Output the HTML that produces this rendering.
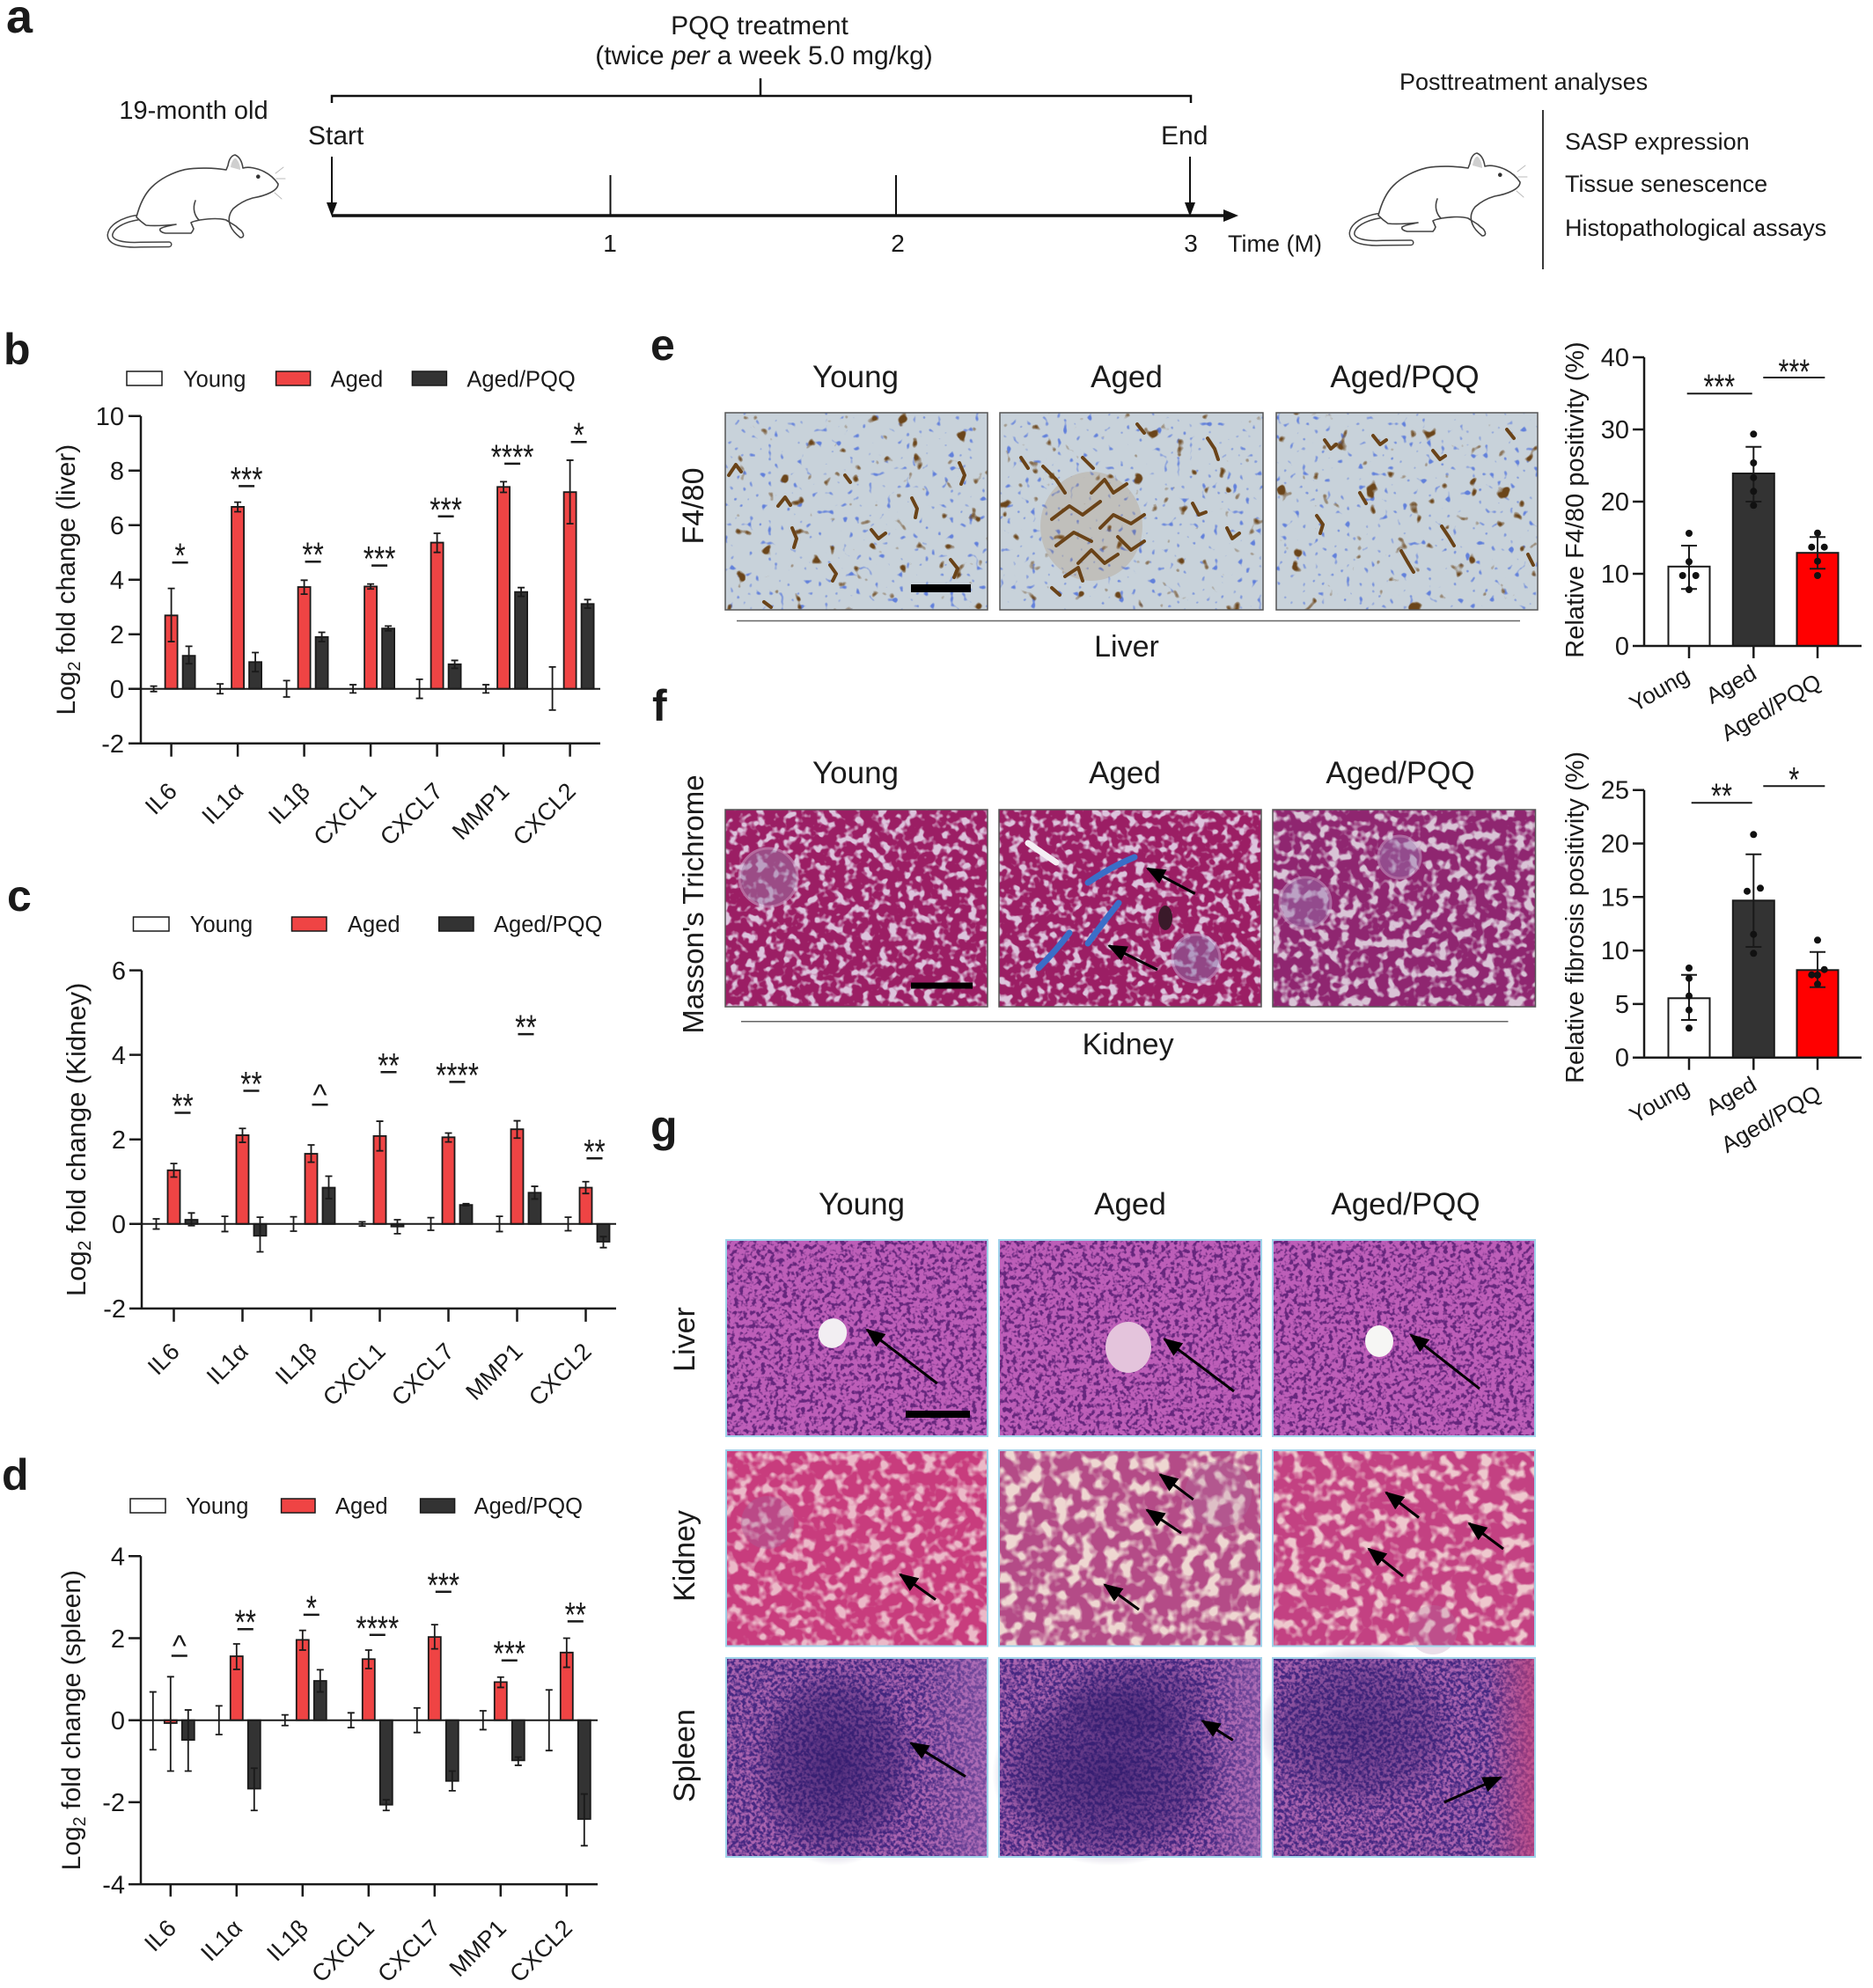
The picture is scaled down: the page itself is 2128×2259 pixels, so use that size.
<!DOCTYPE html>
<html><head><meta charset="utf-8">
<style>
html,body{margin:0;padding:0;background:#fff;width:2128px;height:2259px;overflow:hidden}
svg{display:block;font-family:"Liberation Sans",Arial,sans-serif;fill:#1a1a1a}
.rd{fill:#ef4444;stroke:#1a1a1a;stroke-width:1.8;vector-effect:non-scaling-stroke}
.dk{fill:#333;stroke:#1a1a1a;stroke-width:1.8;vector-effect:non-scaling-stroke}
.eb{fill:none;stroke:#1a1a1a;stroke-width:1.8;vector-effect:non-scaling-stroke}
.ax{fill:none;stroke:#1a1a1a;stroke-width:2.5}
.zl{fill:none;stroke:#1a1a1a;stroke-width:2}
.sg{fill:none;stroke:#1a1a1a;stroke-width:2.5}
.st{font-size:40px;text-anchor:middle}
.tk{font-size:29px;text-anchor:end}
.xl{font-size:27px;text-anchor:end}
.lg{font-size:25.5px}
.pl{font-size:50px;font-weight:bold}
.bc{fill:none;stroke:#6a4318;stroke-width:4;stroke-linecap:round;stroke-linejoin:round}
.ar{stroke:#000;stroke-width:3;marker-end:url(#ah)}
.ib{fill:none;stroke:#555;stroke-width:1.5}
.gb{fill:none;stroke:#9fd2ea;stroke-width:2}
</style></head><body>
<svg width="2128" height="2259" viewBox="0 0 2128 2259" xmlns="http://www.w3.org/2000/svg">
<defs>
<marker id="ah" markerUnits="userSpaceOnUse" markerWidth="22" markerHeight="18" viewBox="0 0 22 18" refX="20" refY="9" orient="auto"><path d="M0 0L22 9L0 18Z" fill="#000"/></marker>
<filter id="fF4" x="0" y="0" width="1" height="1" color-interpolation-filters="sRGB">
<feFlood flood-color="#c8d2da" result="bg"/>
<feTurbulence type="fractalNoise" baseFrequency="0.14" numOctaves="1" seed="4" result="n1"/>
<feColorMatrix in="n1" type="matrix" values="0 0 0 0 0.38  0 0 0 0 0.5  0 0 0 0 0.86  10 0 0 0 -6.5" result="blue"/>
<feTurbulence type="fractalNoise" baseFrequency="0.06" numOctaves="2" seed="11" result="n2"/>
<feColorMatrix in="n2" type="matrix" values="0 0 0 0 0.42  0 0 0 0 0.27  0 0 0 0 0.1  0 0 12 0 -8.3" result="brown"/>
<feMerge><feMergeNode in="bg"/><feMergeNode in="blue"/><feMergeNode in="brown"/></feMerge>
</filter>
<filter id="fMa" x="0" y="0" width="1" height="1" color-interpolation-filters="sRGB">
<feTurbulence type="fractalNoise" baseFrequency="0.1" numOctaves="2" seed="6"/>
<feColorMatrix type="matrix" values="6 0 0 0 -3.0  6 0 0 0 -3.0  6 0 0 0 -3.0  0 0 0 0 1"/>
<feColorMatrix type="matrix" values="0.255 0 0 0 0.608  0.647 0 0 0 0.118  0.47 0 0 0 0.392  0 0 0 0 1"/>
</filter>
<filter id="fMa2" x="0" y="0" width="1" height="1" color-interpolation-filters="sRGB">
<feTurbulence type="fractalNoise" baseFrequency="0.09" numOctaves="2" seed="13"/>
<feColorMatrix type="matrix" values="6 0 0 0 -2.9  6 0 0 0 -2.9  6 0 0 0 -2.9  0 0 0 0 1"/>
<feColorMatrix type="matrix" values="0.29 0 0 0 0.56  0.62 0 0 0 0.15  0.4 0 0 0 0.44  0 0 0 0 1"/>
</filter>
<filter id="fHE" x="0" y="0" width="1" height="1" color-interpolation-filters="sRGB">
<feTurbulence type="fractalNoise" baseFrequency="0.2" numOctaves="2" seed="2"/>
<feColorMatrix type="matrix" values="6 0 0 0 -2.1  6 0 0 0 -2.1  6 0 0 0 -2.1  0 0 0 0 1"/>
<feColorMatrix type="matrix" values="0.34 0 0 0 0.4  0.22 0 0 0 0.15  0.23 0 0 0 0.49  0 0 0 0 1"/>
</filter>
<filter id="fKy" x="0" y="0" width="1" height="1" color-interpolation-filters="sRGB">
<feTurbulence type="fractalNoise" baseFrequency="0.08" numOctaves="2" seed="7"/>
<feColorMatrix type="matrix" values="5 0 0 0 -2.4  5 0 0 0 -2.4  5 0 0 0 -2.4  0 0 0 0 1"/>
<feColorMatrix type="matrix" values="0.138 0 0 0 0.784  0.49 0 0 0 0.235  0.294 0 0 0 0.49  0 0 0 0 1"/>
</filter>
<filter id="fKa" x="0" y="0" width="1" height="1" color-interpolation-filters="sRGB">
<feTurbulence type="fractalNoise" baseFrequency="0.07" numOctaves="2" seed="9"/>
<feColorMatrix type="matrix" values="5 0 0 0 -2.3  5 0 0 0 -2.3  5 0 0 0 -2.3  0 0 0 0 1"/>
<feColorMatrix type="matrix" values="0.228 0 0 0 0.706  0.55 0 0 0 0.294  0.29 0 0 0 0.53  0 0 0 0 1"/>
</filter>
<filter id="fKp" x="0" y="0" width="1" height="1" color-interpolation-filters="sRGB">
<feTurbulence type="fractalNoise" baseFrequency="0.075" numOctaves="2" seed="15"/>
<feColorMatrix type="matrix" values="5 0 0 0 -2.4  5 0 0 0 -2.4  5 0 0 0 -2.4  0 0 0 0 1"/>
<feColorMatrix type="matrix" values="0.168 0 0 0 0.765  0.529 0 0 0 0.255  0.294 0 0 0 0.51  0 0 0 0 1"/>
</filter>
<filter id="fSp" x="0" y="0" width="1" height="1" color-interpolation-filters="sRGB">
<feTurbulence type="fractalNoise" baseFrequency="0.25" numOctaves="2" seed="21"/>
<feColorMatrix type="matrix" values="4 0 0 0 -1.5  4 0 0 0 -1.5  4 0 0 0 -1.5  0 0 0 0 1"/>
<feColorMatrix type="matrix" values="0.392 0 0 0 0.275  0.235 0 0 0 0.157  0.176 0 0 0 0.51  0 0 0 0 1"/>
</filter>
<radialGradient id="gd"><stop offset="0" stop-color="#2d1968" stop-opacity="0.7"/><stop offset="0.7" stop-color="#2d1968" stop-opacity="0.4"/><stop offset="1" stop-color="#2d1968" stop-opacity="0"/></radialGradient>
<linearGradient id="gp" x1="0" x2="1"><stop offset="0" stop-color="#c8467a" stop-opacity="0"/><stop offset="1" stop-color="#c8467a" stop-opacity="0.7"/></linearGradient>
<linearGradient id="gl" x1="0" x2="1"><stop offset="0" stop-color="#b27ac0" stop-opacity="0"/><stop offset="1" stop-color="#b27ac0" stop-opacity="0.45"/></linearGradient>
<g id="mouse" fill="#fff" stroke="#444" stroke-width="1.6" stroke-linejoin="round" stroke-linecap="round">
<path d="M157 247C138 250 126 258 125 267C125 276 140 279 160 278L192 277.7" fill="none" stroke="#444" stroke-width="7"/>
<path d="M157 247C138 250 126 258 125 267C125 276 140 279 160 278L192 277.7" fill="none" stroke="#fff" stroke-width="4"/>
<path d="M155 246.7C158 235 163 222 172 213C182 203 196 196 210 192.7C225 190 245 191 257 193L259 188C260 182 262 177 267 176C272 178 275 184 276 191C282 189 292 191 300 195C306 198 312 203 316 209C316 213 313 216 307 219C301 222 293 224 287 225C280 227 273 230 265 237C260 243 259 250 262 257C264 262 268 266 273 270C277 270 278 267 274 262C271 260 269 258 268 257C262 253 258 251 257 250C250 248 240 248 227 250C222 251 218 252 217 253L220 260C219 263 218 264 217 265L188 265C183 264 181 262 182 260C185 258 190 257 200 255C190 256 175 257 166 256C163 254 160 252 155 246.7Z"/>
<path d="M262 190C263 183 266 179 268 180C271 183 273 188 273 193Z" fill="#cfcfcf" stroke="none"/>
<circle cx="293.3" cy="200.7" r="2.3" fill="#333" stroke="none"/>
<path d="M222 228C218 238 222 246 226 250" fill="none"/>
<path d="M313 197L322 190M314 203L324 203M312 219L320 226" stroke="#bbb" stroke-width="1" fill="none"/>
</g>
</defs>
<rect width="2128" height="2259" fill="#fff"/>

<!-- ===== Panel a ===== -->
<text x="7" y="37" font-size="54" font-weight="bold">a</text>
<text x="863" y="39" text-anchor="middle" font-size="30">PQQ treatment</text>
<text x="868" y="73" text-anchor="middle" font-size="30">(twice <tspan font-style="italic">per</tspan> a week 5.0 mg/kg)</text>
<path d="M377 117V109H1353V117M864 109V89" stroke="#111" stroke-width="2.5" fill="none"/>
<text x="220" y="135" text-anchor="middle" font-size="29">19-month old</text>
<text x="350" y="164" font-size="30">Start</text>
<text x="1319" y="164" font-size="30">End</text>
<path d="M377 178V232M1352 178V232" stroke="#111" stroke-width="2"/>
<path d="M371 230L383 230L377 246ZM1346 230L1358 230L1352 246Z" fill="#111"/>
<path d="M377 245H1392" stroke="#111" stroke-width="3.5"/>
<path d="M1390 238L1407 245L1390 252Z" fill="#111"/>
<path d="M693.5 199V245M1018 199V245" stroke="#111" stroke-width="2"/>
<text x="693" y="286" text-anchor="middle" font-size="28">1</text>
<text x="1020" y="286" text-anchor="middle" font-size="28">2</text>
<text x="1353" y="286" text-anchor="middle" font-size="28">3</text>
<text x="1395" y="286" font-size="27">Time (M)</text>
<text x="1590" y="102" font-size="27">Posttreatment analyses</text>
<path d="M1753 125V306" stroke="#222" stroke-width="1.8"/>
<text x="1778" y="170" font-size="27">SASP expression</text>
<text x="1778" y="218" font-size="27">Tissue senescence</text>
<text x="1778" y="268" font-size="27">Histopathological assays</text>
<use href="#mouse"/>
<use href="#mouse" transform="translate(1411 -2)"/>

<!-- ===== Panel b ===== -->
<text class="pl" x="4" y="414">b</text>
<rect x="144" y="422" width="40" height="16" fill="#fff" stroke="#1a1a1a" stroke-width="1.5"/>
<text class="lg" x="208" y="439.5">Young</text>
<rect x="313.6" y="422" width="39" height="16" fill="#ef4444" stroke="#1a1a1a" stroke-width="1.5"/>
<text class="lg" x="375.6" y="439.5">Aged</text>
<rect x="468.4" y="422" width="39" height="16" fill="#333" stroke="#1a1a1a" stroke-width="1.5"/>
<text class="lg" x="530.4" y="439.5">Aged/PQQ</text>
<text transform="translate(85 658.7) rotate(-90)" text-anchor="middle" font-size="30">Log<tspan font-size="20" dy="6">2</tspan><tspan dy="-6"> fold change (liver)</tspan></text>
<g transform="translate(0 782.7) scale(1 -31)">
<rect class="rd" x="187.6" y="0" width="14" height="2.69"/><rect class="dk" x="207.6" y="0" width="14" height="1.21"/>
<rect class="rd" x="263.1" y="0" width="14" height="6.67"/><rect class="dk" x="283.1" y="0" width="14" height="0.98"/>
<rect class="rd" x="338.6" y="0" width="14" height="3.73"/><rect class="dk" x="358.6" y="0" width="14" height="1.9"/>
<rect class="rd" x="414.1" y="0" width="14" height="3.75"/><rect class="dk" x="434.1" y="0" width="14" height="2.21"/>
<rect class="rd" x="489.6" y="0" width="14" height="5.36"/><rect class="dk" x="509.6" y="0" width="14" height="0.9"/>
<rect class="rd" x="565.1" y="0" width="14" height="7.4"/><rect class="dk" x="585.1" y="0" width="14" height="3.55"/>
<rect class="rd" x="640.6" y="0" width="14" height="7.21"/><rect class="dk" x="660.6" y="0" width="14" height="3.11"/>
<path class="eb" d="M174.6 -0.1V0.1M170.6 -0.1h8M170.6 0.1h8M194.6 1.73V3.68M190.6 1.73h8M190.6 3.68h8M214.6 0.92V1.56M210.6 0.92h8M210.6 1.56h8
M250.1 -0.18V0.18M246.1 -0.18h8M246.1 0.18h8M270.1 6.49V6.84M266.1 6.49h8M266.1 6.84h8M290.1 0.63V1.33M286.1 0.63h8M286.1 1.33h8
M325.6 -0.3V0.3M321.6 -0.3h8M321.6 0.3h8M345.6 3.47V3.98M341.6 3.47h8M341.6 3.98h8M365.6 1.73V2.07M361.6 1.73h8M361.6 2.07h8
M401.1 -0.15V0.15M397.1 -0.15h8M397.1 0.15h8M421.1 3.66V3.84M417.1 3.66h8M417.1 3.84h8M441.1 2.13V2.3M437.1 2.13h8M437.1 2.3h8
M476.6 -0.35V0.35M472.6 -0.35h8M472.6 0.35h8M496.6 5V5.7M492.6 5h8M492.6 5.7h8M516.6 0.75V1.04M512.6 0.75h8M512.6 1.04h8
M552.1 -0.15V0.15M548.1 -0.15h8M548.1 0.15h8M572.1 7.2V7.59M568.1 7.2h8M568.1 7.59h8M592.1 3.39V3.71M588.1 3.39h8M588.1 3.71h8
M627.6 -0.78V0.8M623.6 -0.78h8M623.6 0.8h8M647.6 6.05V8.38M643.6 6.05h8M643.6 8.38h8M667.6 2.96V3.27M663.6 2.96h8M663.6 3.27h8"/>
</g>
<path class="zl" d="M160 782.7H682"/>
<path class="ax" d="M160 472.7V844.7H682M146 472.7H160M146 534.7H160M146 596.7H160M146 658.7H160M146 720.7H160M146 782.7H160M146 844.7H160M194.6 844.7v15M270.1 844.7v15M345.6 844.7v15M421.1 844.7v15M496.6 844.7v15M572.1 844.7v15M647.6 844.7v15"/>
<text class="tk" x="141" y="483">10</text><text class="tk" x="141" y="545">8</text><text class="tk" x="141" y="607">6</text><text class="tk" x="141" y="669">4</text><text class="tk" x="141" y="731">2</text><text class="tk" x="141" y="793">0</text><text class="tk" x="141" y="855">-2</text>
<path class="sg" d="M195.6 639.2h18M271.1 552.4h18M346.6 638.2h18M422.1 642.6h18M497.6 586.8h18M573.1 526.9h18M648.6 502.2h18"/>
<text class="st" x="204.6" y="645.2" textLength="12.2" lengthAdjust="spacingAndGlyphs">*</text>
<text class="st" x="280.1" y="558.4" textLength="36.6" lengthAdjust="spacingAndGlyphs">***</text>
<text class="st" x="355.6" y="644.2" textLength="24.4" lengthAdjust="spacingAndGlyphs">**</text>
<text class="st" x="431.1" y="648.6" textLength="36.6" lengthAdjust="spacingAndGlyphs">***</text>
<text class="st" x="506.6" y="592.8" textLength="36.6" lengthAdjust="spacingAndGlyphs">***</text>
<text class="st" x="582.1" y="532.9" textLength="48.8" lengthAdjust="spacingAndGlyphs">****</text>
<text class="st" x="657.6" y="508.2" textLength="12.2" lengthAdjust="spacingAndGlyphs">*</text>
<text class="xl" transform="translate(202.6 900.7) rotate(-45)">IL6</text>
<text class="xl" transform="translate(278.1 900.7) rotate(-45)">IL1α</text>
<text class="xl" transform="translate(353.6 900.7) rotate(-45)">IL1β</text>
<text class="xl" transform="translate(429.1 900.7) rotate(-45)">CXCL1</text>
<text class="xl" transform="translate(504.6 900.7) rotate(-45)">CXCL7</text>
<text class="xl" transform="translate(580.1 900.7) rotate(-45)">MMP1</text>
<text class="xl" transform="translate(655.6 900.7) rotate(-45)">CXCL2</text>

<!-- ===== Panel c ===== -->
<text class="pl" x="8" y="1035">c</text>
<rect x="151.5" y="1042" width="40.5" height="16" fill="#fff" stroke="#1a1a1a" stroke-width="1.5"/>
<text class="lg" x="215.8" y="1059">Young</text>
<rect x="331.5" y="1042" width="39.5" height="16" fill="#ef4444" stroke="#1a1a1a" stroke-width="1.5"/>
<text class="lg" x="395" y="1059">Aged</text>
<rect x="498.7" y="1042" width="39.3" height="16" fill="#333" stroke="#1a1a1a" stroke-width="1.5"/>
<text class="lg" x="561" y="1059">Aged/PQQ</text>
<text transform="translate(97 1294.8) rotate(-90)" text-anchor="middle" font-size="31">Log<tspan font-size="21" dy="6">2</tspan><tspan dy="-6"> fold change (Kidney)</tspan></text>
<g transform="translate(0 1390.8) scale(1 -48.04)">
<rect class="rd" x="190.5" y="0" width="14" height="1.27"/><rect class="dk" x="210.5" y="0" width="14" height="0.1"/>
<rect class="rd" x="268.5" y="0" width="14" height="2.1"/><rect class="dk" x="288.5" y="-0.28" width="14" height="0.28"/>
<rect class="rd" x="346.5" y="0" width="14" height="1.66"/><rect class="dk" x="366.5" y="0" width="14" height="0.86"/>
<rect class="rd" x="424.5" y="0" width="14" height="2.08"/><rect class="dk" x="444.5" y="-0.06" width="14" height="0.06"/>
<rect class="rd" x="502.5" y="0" width="14" height="2.05"/><rect class="dk" x="522.5" y="0" width="14" height="0.45"/>
<rect class="rd" x="580.5" y="0" width="14" height="2.24"/><rect class="dk" x="600.5" y="0" width="14" height="0.74"/>
<rect class="rd" x="658.5" y="0" width="14" height="0.86"/><rect class="dk" x="678.5" y="-0.42" width="14" height="0.42"/>
<path class="eb" d="M177.5 -0.12V0.12M173.5 -0.12h8M173.5 0.12h8M197.5 1.11V1.43M193.5 1.11h8M193.5 1.43h8M217.5 -0.04V0.26M213.5 -0.04h8M213.5 0.26h8
M255.5 -0.18V0.18M251.5 -0.18h8M251.5 0.18h8M275.5 1.93V2.26M271.5 1.93h8M271.5 2.26h8M295.5 -0.66V0.16M291.5 -0.66h8M291.5 0.16h8
M333.5 -0.17V0.17M329.5 -0.17h8M329.5 0.17h8M353.5 1.46V1.87M349.5 1.46h8M349.5 1.87h8M373.5 0.6V1.13M369.5 0.6h8M369.5 1.13h8
M411.5 -0.05V0.05M407.5 -0.05h8M407.5 0.05h8M431.5 1.73V2.43M427.5 1.73h8M427.5 2.43h8M451.5 -0.23V0.1M447.5 -0.23h8M447.5 0.1h8
M489.5 -0.15V0.15M485.5 -0.15h8M485.5 0.15h8M509.5 1.94V2.15M505.5 1.94h8M505.5 2.15h8M529.5 0.43V0.48M525.5 0.43h8M525.5 0.48h8
M567.5 -0.18V0.18M563.5 -0.18h8M563.5 0.18h8M587.5 2.03V2.44M583.5 2.03h8M583.5 2.44h8M607.5 0.59V0.89M603.5 0.59h8M603.5 0.89h8
M645.5 -0.16V0.16M641.5 -0.16h8M641.5 0.16h8M665.5 0.72V1M661.5 0.72h8M661.5 1h8M685.5 -0.56V-0.3M681.5 -0.56h8M681.5 -0.3h8"/>
</g>
<path class="zl" d="M161 1390.8H700"/>
<path class="ax" d="M161 1102.6V1486.9H700M147 1102.6H161M147 1198.6H161M147 1294.7H161M147 1390.8H161M147 1486.9H161M197.5 1486.9v15M275.5 1486.9v15M353.5 1486.9v15M431.5 1486.9v15M509.5 1486.9v15M587.5 1486.9v15M665.5 1486.9v15"/>
<text class="tk" x="143" y="1112.9">6</text><text class="tk" x="143" y="1208.9">4</text><text class="tk" x="143" y="1305">2</text><text class="tk" x="143" y="1401.1">0</text><text class="tk" x="143" y="1497.2">-2</text>
<path class="sg" d="M198.5 1264.5h18M276.5 1239.5h18M354.5 1255.3h18M432.5 1218.3h18M510.5 1229.4h18M588.5 1175.1h18M666.5 1316.3h18"/>
<text class="st" x="207.5" y="1270.5" textLength="24.4" lengthAdjust="spacingAndGlyphs">**</text>
<text class="st" x="285.5" y="1245.5" textLength="24.4" lengthAdjust="spacingAndGlyphs">**</text>
<text x="363.5" y="1256" font-size="34" text-anchor="middle">^</text>
<text class="st" x="441.5" y="1224.3" textLength="24.4" lengthAdjust="spacingAndGlyphs">**</text>
<text class="st" x="519.5" y="1235.4" textLength="48.8" lengthAdjust="spacingAndGlyphs">****</text>
<text class="st" x="597.5" y="1181.1" textLength="24.4" lengthAdjust="spacingAndGlyphs">**</text>
<text class="st" x="675.5" y="1322.3" textLength="24.4" lengthAdjust="spacingAndGlyphs">**</text>
<text class="xl" transform="translate(205.5 1537.4) rotate(-45)">IL6</text>
<text class="xl" transform="translate(283.5 1537.4) rotate(-45)">IL1α</text>
<text class="xl" transform="translate(361.5 1537.4) rotate(-45)">IL1β</text>
<text class="xl" transform="translate(439.5 1537.4) rotate(-45)">CXCL1</text>
<text class="xl" transform="translate(517.5 1537.4) rotate(-45)">CXCL7</text>
<text class="xl" transform="translate(595.5 1537.4) rotate(-45)">MMP1</text>
<text class="xl" transform="translate(673.5 1537.4) rotate(-45)">CXCL2</text>

<!-- ===== Panel d ===== -->
<text class="pl" x="2" y="1693">d</text>
<rect x="148" y="1703" width="40" height="16" fill="#fff" stroke="#1a1a1a" stroke-width="1.5"/>
<text class="lg" x="211" y="1720">Young</text>
<rect x="319.6" y="1703" width="38.4" height="16" fill="#ef4444" stroke="#1a1a1a" stroke-width="1.5"/>
<text class="lg" x="381" y="1720">Aged</text>
<rect x="477.6" y="1703" width="39" height="16" fill="#333" stroke="#1a1a1a" stroke-width="1.5"/>
<text class="lg" x="538.6" y="1720">Aged/PQQ</text>
<text transform="translate(91 1954.7) rotate(-90)" text-anchor="middle" font-size="30">Log<tspan font-size="20" dy="6">2</tspan><tspan dy="-6"> fold change (spleen)</tspan></text>
<g transform="translate(0 1954.7) scale(1 -46.6)">
<rect class="rd" x="186.8" y="-0.07" width="14" height="0.07"/><rect class="dk" x="206.8" y="-0.48" width="14" height="0.48"/>
<rect class="rd" x="261.8" y="0" width="14" height="1.56"/><rect class="dk" x="281.8" y="-1.67" width="14" height="1.67"/>
<rect class="rd" x="336.8" y="0" width="14" height="1.96"/><rect class="dk" x="356.8" y="0" width="14" height="0.96"/>
<rect class="rd" x="411.8" y="0" width="14" height="1.49"/><rect class="dk" x="431.8" y="-2.06" width="14" height="2.06"/>
<rect class="rd" x="486.8" y="0" width="14" height="2.03"/><rect class="dk" x="506.8" y="-1.48" width="14" height="1.48"/>
<rect class="rd" x="561.8" y="0" width="14" height="0.93"/><rect class="dk" x="581.8" y="-0.98" width="14" height="0.98"/>
<rect class="rd" x="636.8" y="0" width="14" height="1.65"/><rect class="dk" x="656.8" y="-2.41" width="14" height="2.41"/>
<path class="eb" d="M173.8 -0.72V0.69M169.8 -0.72h8M169.8 0.69h8M193.8 -1.24V1.06M189.8 -1.24h8M189.8 1.06h8M213.8 -1.24V0.25M209.8 -1.24h8M209.8 0.25h8
M248.8 -0.35V0.35M244.8 -0.35h8M244.8 0.35h8M268.8 1.24V1.86M264.8 1.24h8M264.8 1.86h8M288.8 -2.2V-1.17M284.8 -2.2h8M284.8 -1.17h8
M323.8 -0.13V0.13M319.8 -0.13h8M319.8 0.13h8M343.8 1.71V2.19M339.8 1.71h8M339.8 2.19h8M363.8 0.69V1.23M359.8 0.69h8M359.8 1.23h8
M398.8 -0.18V0.18M394.8 -0.18h8M394.8 0.18h8M418.8 1.26V1.71M414.8 1.26h8M414.8 1.71h8M438.8 -2.2V-1.94M434.8 -2.2h8M434.8 -1.94h8
M473.8 -0.3V0.3M469.8 -0.3h8M469.8 0.3h8M493.8 1.74V2.33M489.8 1.74h8M489.8 2.33h8M513.8 -1.72V-1.24M509.8 -1.72h8M509.8 -1.24h8
M548.8 -0.23V0.23M544.8 -0.23h8M544.8 0.23h8M568.8 0.8V1.05M564.8 0.8h8M564.8 1.05h8M588.8 -1.1V-0.9M584.8 -1.1h8M584.8 -0.9h8
M623.8 -0.74V0.74M619.8 -0.74h8M619.8 0.74h8M643.8 1.29V2M639.8 1.29h8M639.8 2h8M663.8 -3.06V-1.8M659.8 -3.06h8M659.8 -1.8h8"/>
</g>
<path class="zl" d="M160 1954.7H679"/>
<path class="ax" d="M160 1768.3V2141.1H679M146 1768.3H160M146 1861.5H160M146 1954.7H160M146 2047.9H160M146 2141.1H160M193.8 2141.1v14M268.8 2141.1v14M343.8 2141.1v14M418.8 2141.1v14M493.8 2141.1v14M568.8 2141.1v14M643.8 2141.1v14"/>
<text class="tk" x="142" y="1778.6">4</text><text class="tk" x="142" y="1871.8">2</text><text class="tk" x="142" y="1965">0</text><text class="tk" x="142" y="2058.2">-2</text><text class="tk" x="142" y="2151.4">-4</text>
<path class="sg" d="M194.8 1881.5h18M269.8 1851.2h18M344.8 1834.9h18M419.8 1857.8h18M494.8 1808.8h18M569.8 1886.7h18M644.8 1842.4h18"/>
<text x="203.8" y="1882" font-size="34" text-anchor="middle">^</text>
<text class="st" x="278.8" y="1857.2" textLength="24.4" lengthAdjust="spacingAndGlyphs">**</text>
<text class="st" x="353.8" y="1840.9" textLength="12.2" lengthAdjust="spacingAndGlyphs">*</text>
<text class="st" x="428.8" y="1863.8" textLength="48.8" lengthAdjust="spacingAndGlyphs">****</text>
<text class="st" x="503.8" y="1814.8" textLength="36.6" lengthAdjust="spacingAndGlyphs">***</text>
<text class="st" x="578.8" y="1892.7" textLength="36.6" lengthAdjust="spacingAndGlyphs">***</text>
<text class="st" x="653.8" y="1848.4" textLength="24.4" lengthAdjust="spacingAndGlyphs">**</text>
<text class="xl" transform="translate(201.8 2192.6) rotate(-45)">IL6</text>
<text class="xl" transform="translate(276.8 2192.6) rotate(-45)">IL1α</text>
<text class="xl" transform="translate(351.8 2192.6) rotate(-45)">IL1β</text>
<text class="xl" transform="translate(426.8 2192.6) rotate(-45)">CXCL1</text>
<text class="xl" transform="translate(501.8 2192.6) rotate(-45)">CXCL7</text>
<text class="xl" transform="translate(576.8 2192.6) rotate(-45)">MMP1</text>
<text class="xl" transform="translate(651.8 2192.6) rotate(-45)">CXCL2</text>

<!-- ===== Panel e images ===== -->
<text class="pl" x="739" y="409">e</text>
<text x="972" y="440" font-size="35" text-anchor="middle">Young</text>
<text x="1280" y="440" font-size="35" text-anchor="middle">Aged</text>
<text x="1596" y="440" font-size="35" text-anchor="middle">Aged/PQQ</text>
<text transform="translate(799 575) rotate(-90)" text-anchor="middle" font-size="34">F4/80</text>
<rect x="824" y="469" width="298" height="224" filter="url(#fF4)"/>
<rect x="1136" y="469" width="299" height="224" filter="url(#fF4)"/>
<rect x="1450" y="469" width="297" height="224" filter="url(#fF4)"/>
<ellipse cx="1240" cy="598" rx="58" ry="62" fill="#9a6a30" opacity="0.18"/>
<path class="bc" d="M828 540L836 528L842 536M884 575L892 565L898 574M900 600L905 612L902 622M943 642L950 652L946 660M990 602L998 612L1006 606M1036 566L1042 578L1040 588M1080 636L1088 646L1084 656M1090 526L1096 540L1092 550M868 684L876 690M960 540L966 548
M1185 530L1200 545L1210 560M1195 590L1215 575L1230 585L1250 570M1200 620L1220 605L1240 615M1225 640L1240 625L1255 640L1270 630M1240 560L1255 545L1265 560L1280 550M1250 600L1265 585L1285 595L1300 585M1210 655L1225 645L1230 660M1270 610L1285 625L1300 615M1372 498L1380 510L1384 522M1355 572L1362 585L1370 582M1394 600L1400 612L1408 606M1292 482L1300 492M1195 668L1204 676M1160 520L1168 532M1230 520L1242 532
M1505 500L1512 510L1518 505M1560 495L1568 505L1575 500M1628 512L1636 522L1642 518M1496 586L1503 596L1500 606M1592 626L1600 640L1606 650M1638 598L1646 610L1652 620M1712 488L1720 498M1736 630L1742 642M1545 560L1552 572"/>
<rect class="ib" x="824" y="469" width="298" height="224"/>
<rect class="ib" x="1136" y="469" width="299" height="224"/>
<rect class="ib" x="1450" y="469" width="297" height="224"/>
<rect x="1035" y="664" width="68" height="9" fill="#000"/>
<path d="M837 705.5H1727" stroke="#666" stroke-width="1.5"/>
<text x="1280" y="746" font-size="34" text-anchor="middle">Liver</text>

<!-- ===== Panel e chart ===== -->
<text transform="translate(1799 568) rotate(-90)" text-anchor="middle" font-size="29">Relative F4/80 positivity (%)</text>
<rect x="1895.5" y="643.8" width="47" height="90.2" fill="#fff" stroke="#1a1a1a" stroke-width="2"/>
<rect x="1968.8" y="538" width="47" height="196" fill="#333" stroke="#1a1a1a" stroke-width="2"/>
<rect x="2041.5" y="628.2" width="47" height="105.8" fill="#f00" stroke="#1a1a1a" stroke-width="2"/>
<path d="M1919 620V669.2M1910 620h18M1910 669.2h18M1992.3 507.7V570M1983.3 507.7h18M1983.3 570h18M2065 610.2V646.3M2056 610.2h18M2056 646.3h18" stroke="#1a1a1a" stroke-width="2" fill="none"/>
<g fill="#111">
<circle cx="1919" cy="606" r="4"/><circle cx="1919" cy="638.3" r="4"/><circle cx="1911.7" cy="654" r="4"/><circle cx="1926.7" cy="654" r="4"/><circle cx="1919" cy="670" r="4"/>
<circle cx="1992.3" cy="493.3" r="4"/><circle cx="1992.3" cy="526" r="4"/><circle cx="1992.3" cy="542.7" r="4"/><circle cx="1992.3" cy="558.3" r="4"/><circle cx="1992.3" cy="574.3" r="4"/>
<circle cx="2065" cy="605.7" r="4"/><circle cx="2058.3" cy="621.7" r="4"/><circle cx="2072.7" cy="621.7" r="4"/><circle cx="2065" cy="637.7" r="4"/><circle cx="2065" cy="654" r="4"/>
</g>
<path class="ax" d="M1868 406V734H2115M1855 406H1868M1855 488H1868M1855 570H1868M1855 652H1868M1855 734H1868M1919 734v14M1992.3 734v14M2065 734v14" stroke-width="2"/>
<text class="tk" x="1851" y="416">40</text><text class="tk" x="1851" y="498">30</text><text class="tk" x="1851" y="580">20</text><text class="tk" x="1851" y="662">10</text><text class="tk" x="1851" y="744">0</text>
<path d="M1916.7 447.3H1990.7M2003.3 429H2073.3" stroke="#1a1a1a" stroke-width="2"/>
<text class="st" x="1953.3" y="453" textLength="35.7" lengthAdjust="spacingAndGlyphs">***</text>
<text class="st" x="2038.3" y="436.2" textLength="35.7" lengthAdjust="spacingAndGlyphs">***</text>
<text font-size="26" text-anchor="end" transform="translate(1921 773) rotate(-30)">Young</text>
<text font-size="26" text-anchor="end" transform="translate(1997.5 770) rotate(-30)">Aged</text>
<text font-size="26" text-anchor="end" transform="translate(2071 780) rotate(-30)">Aged/PQQ</text>

<!-- ===== Panel f images ===== -->
<text class="pl" x="741" y="819">f</text>
<text x="972" y="890" font-size="35" text-anchor="middle">Young</text>
<text x="1278" y="890" font-size="35" text-anchor="middle">Aged</text>
<text x="1591" y="890" font-size="35" text-anchor="middle">Aged/PQQ</text>
<text transform="translate(799 1027.5) rotate(-90)" text-anchor="middle" font-size="33">Masson's Trichrome</text>
<rect x="824" y="920" width="298" height="224" filter="url(#fMa)"/>
<rect x="1135" y="920" width="298" height="224" filter="url(#fMa)"/>
<rect x="1446" y="920" width="298.5" height="224" filter="url(#fMa2)"/>
<circle cx="873" cy="997" r="33" fill="#9c7aa8" stroke="#d0b8d8" stroke-width="3" opacity="0.5"/>
<circle cx="1359" cy="1089" r="27" fill="#8a70a8" stroke="#c8b8e0" stroke-width="3" opacity="0.5"/>
<circle cx="1483" cy="1026" r="29" fill="#9a78b0" stroke="#d0b8d8" stroke-width="3" opacity="0.45"/>
<circle cx="1590" cy="974" r="24" fill="#9a78b0" stroke="#d0b8d8" stroke-width="3" opacity="0.45"/>
<path d="M1236 1003Q1262 985 1289 974M1271 1026Q1252 1050 1236 1072M1180 1100Q1200 1080 1215 1060" stroke="#3a6ec8" stroke-width="7" fill="none" stroke-linecap="round"/>
<path d="M1168 958L1200 980" stroke="#f4eef4" stroke-width="7" stroke-linecap="round"/>
<ellipse cx="1324" cy="1043" rx="8" ry="14" fill="#3a1a2a"/>
<line class="ar" x1="1357.7" y1="1015.5" x2="1303.7" y2="986.8"/>
<line class="ar" x1="1315" y1="1102" x2="1260" y2="1074.6"/>
<rect class="ib" x="824" y="920" width="298" height="224"/>
<rect class="ib" x="1135" y="920" width="298" height="224"/>
<rect class="ib" x="1446" y="920" width="298.5" height="224"/>
<rect x="1035" y="1116.5" width="70" height="7" fill="#000"/>
<path d="M842 1160.7H1713.5" stroke="#666" stroke-width="1.5"/>
<text x="1281.6" y="1198" font-size="34" text-anchor="middle">Kidney</text>

<!-- ===== Panel f chart ===== -->
<text transform="translate(1799 1042.5) rotate(-90)" text-anchor="middle" font-size="29">Relative fibrosis positivity (%)</text>
<rect x="1895.5" y="1134.3" width="47" height="67.4" fill="#fff" stroke="#1a1a1a" stroke-width="2"/>
<rect x="1968.8" y="1023.3" width="47" height="178.4" fill="#333" stroke="#1a1a1a" stroke-width="2"/>
<rect x="2041.5" y="1102.3" width="47" height="99.4" fill="#f00" stroke="#1a1a1a" stroke-width="2"/>
<path d="M1919 1107.7V1159M1910 1107.7h18M1910 1159h18M1992.3 970.7V1076M1983.3 970.7h18M1983.3 1076h18M2065 1081.7V1121.7M2056 1081.7h18M2056 1121.7h18" stroke="#1a1a1a" stroke-width="2" fill="none"/>
<g fill="#111">
<circle cx="1919" cy="1100" r="4"/><circle cx="1919" cy="1111.7" r="4"/><circle cx="1919" cy="1131.7" r="4"/><circle cx="1919" cy="1147.7" r="4"/><circle cx="1919" cy="1168.3" r="4"/>
<circle cx="1992.3" cy="948.3" r="4"/><circle cx="1985" cy="1012.7" r="4"/><circle cx="2000" cy="1009.3" r="4"/><circle cx="1992.3" cy="1061.7" r="4"/><circle cx="1992.3" cy="1083.3" r="4"/>
<circle cx="2065" cy="1068.3" r="4"/><circle cx="2058.3" cy="1107.7" r="4"/><circle cx="2072.7" cy="1101.7" r="4"/><circle cx="2065" cy="1108" r="4"/><circle cx="2065" cy="1118.3" r="4"/>
</g>
<path class="ax" d="M1868 897.7V1201.7H2115M1855 897.7H1868M1855 958.5H1868M1855 1019.3H1868M1855 1080.1H1868M1855 1140.9H1868M1855 1201.7H1868M1919 1201.7v14M1992.3 1201.7v14M2065 1201.7v14" stroke-width="2"/>
<text class="tk" x="1851" y="907.7">25</text><text class="tk" x="1851" y="968.5">20</text><text class="tk" x="1851" y="1029.3">15</text><text class="tk" x="1851" y="1090.1">10</text><text class="tk" x="1851" y="1150.9">5</text><text class="tk" x="1851" y="1211.7">0</text>
<path d="M1921.7 912.3H1990.7M2003.3 893.3H2073.3" stroke="#1a1a1a" stroke-width="2"/>
<text class="st" x="1956" y="918" textLength="24" lengthAdjust="spacingAndGlyphs">**</text>
<text class="st" x="2038.3" y="899.6" textLength="12" lengthAdjust="spacingAndGlyphs">*</text>
<text font-size="26" text-anchor="end" transform="translate(1921 1240.7) rotate(-30)">Young</text>
<text font-size="26" text-anchor="end" transform="translate(1997.5 1237.7) rotate(-30)">Aged</text>
<text font-size="26" text-anchor="end" transform="translate(2071 1247.7) rotate(-30)">Aged/PQQ</text>

<!-- ===== Panel g ===== -->
<text class="pl" x="739" y="1297">g</text>
<text x="979" y="1380" font-size="35" text-anchor="middle">Young</text>
<text x="1284" y="1380" font-size="35" text-anchor="middle">Aged</text>
<text x="1597" y="1380" font-size="35" text-anchor="middle">Aged/PQQ</text>
<text transform="translate(789 1522) rotate(-90)" text-anchor="middle" font-size="34">Liver</text>
<text transform="translate(789 1768) rotate(-90)" text-anchor="middle" font-size="34">Kidney</text>
<text transform="translate(789 1995) rotate(-90)" text-anchor="middle" font-size="34">Spleen</text>
<!-- liver -->
<rect x="825" y="1409" width="297" height="223" filter="url(#fHE)"/>
<rect x="1135" y="1409" width="298" height="223" filter="url(#fHE)"/>
<rect x="1446" y="1409" width="298" height="223" filter="url(#fHE)"/>
<ellipse cx="946" cy="1515" rx="16" ry="17" fill="#f2eef2" transform="rotate(25 946 1515)"/>
<ellipse cx="1282" cy="1531" rx="26" ry="29" fill="#e4c4dc"/>
<ellipse cx="1567" cy="1524" rx="16" ry="18" fill="#f6f6f4"/>
<rect x="1029" y="1603" width="73" height="8" fill="#000"/>
<line class="ar" x1="1064.8" y1="1572" x2="985" y2="1511"/>
<line class="ar" x1="1402" y1="1581" x2="1322.8" y2="1521.6"/>
<line class="ar" x1="1681" y1="1578" x2="1603" y2="1517"/>
<!-- kidney -->
<rect x="825" y="1648" width="297" height="222.5" filter="url(#fKy)"/>
<rect x="1135" y="1648" width="298" height="222.5" filter="url(#fKa)"/>
<rect x="1446" y="1648" width="298" height="222.5" filter="url(#fKp)"/>
<circle cx="872" cy="1730" r="30" fill="#a06aa0" opacity="0.3"/>
<circle cx="1384" cy="1698" r="38" fill="#b07aa8" opacity="0.25"/>
<circle cx="1628" cy="1852" r="28" fill="#b07aa8" opacity="0.25"/>
<line class="ar" x1="1063" y1="1817.7" x2="1022.8" y2="1789"/>
<line class="ar" x1="1355.8" y1="1703.9" x2="1318" y2="1675.4"/>
<line class="ar" x1="1342" y1="1742" x2="1303" y2="1715.8"/>
<line class="ar" x1="1294" y1="1829" x2="1255" y2="1800.7"/>
<line class="ar" x1="1612" y1="1724.5" x2="1574.8" y2="1696"/>
<line class="ar" x1="1708" y1="1760" x2="1669" y2="1731"/>
<line class="ar" x1="1594" y1="1791" x2="1555" y2="1760"/>
<!-- spleen -->
<rect x="825" y="1884" width="297" height="226" filter="url(#fSp)"/>
<rect x="1135" y="1884" width="298" height="226" filter="url(#fSp)"/>
<rect x="1446" y="1884" width="298" height="226" filter="url(#fSp)"/>
<ellipse cx="949" cy="2005" rx="95" ry="115" fill="url(#gd)"/>
<rect x="1040" y="1884" width="82" height="226" fill="url(#gl)"/>
<ellipse cx="1262" cy="2015" rx="135" ry="105" fill="url(#gd)"/>
<ellipse cx="1290" cy="1930" rx="95" ry="50" fill="url(#gd)" opacity="0.7"/>
<rect x="1370" y="1884" width="63" height="226" fill="url(#gl)"/>
<ellipse cx="1545" cy="1965" rx="115" ry="95" fill="url(#gd)" opacity="0.7"/>
<rect x="1690" y="1884" width="54" height="226" fill="url(#gp)"/>
<line class="ar" x1="1097" y1="2018.7" x2="1034.8" y2="1980.6"/>
<line class="ar" x1="1400.8" y1="1977.4" x2="1366" y2="1955.4"/>
<line class="ar" x1="1640.8" y1="2048" x2="1705" y2="2019.7"/>
<rect class="gb" x="825" y="1409" width="297" height="223"/>
<rect class="gb" x="1135" y="1409" width="298" height="223"/>
<rect class="gb" x="1446" y="1409" width="298" height="223"/>
<rect class="gb" x="825" y="1648" width="297" height="222.5"/>
<rect class="gb" x="1135" y="1648" width="298" height="222.5"/>
<rect class="gb" x="1446" y="1648" width="298" height="222.5"/>
<rect class="gb" x="825" y="1884" width="297" height="226"/>
<rect class="gb" x="1135" y="1884" width="298" height="226"/>
<rect class="gb" x="1446" y="1884" width="298" height="226"/>
</svg>
</body></html>
